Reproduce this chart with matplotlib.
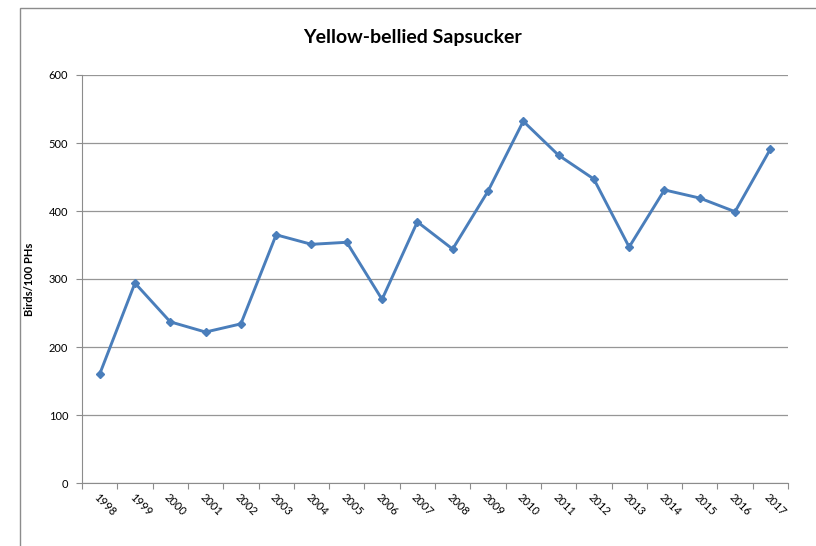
import matplotlib
matplotlib.use("Agg")
import matplotlib.pyplot as plt
from matplotlib.patches import Rectangle
import numpy as np

plt.rcParams["font.family"] = ["Lato", "DejaVu Sans"]

years = [str(y) for y in range(1998, 2018)]
birds = [160, 294, 237, 222, 234, 365, 351, 354, 270, 384,
         344, 429, 532, 482, 447, 347, 431, 419, 399, 491]
yticks = [0, 100, 200, 300, 400, 500, 600]

W, H = 816, 546
fig = plt.figure(figsize=(W / 100, H / 100), dpi=100)
ax = fig.add_axes([82 / W, 1 - 483 / H, (788 - 82) / W, (483 - 75) / H])

# chart-area border, runs off the right and bottom of the image
fig.patches.append(Rectangle((20 / W, -0.1), 1.2, 1 - 8 / H + 0.1,
                             transform=fig.transFigure, fill=False,
                             edgecolor="#8c8c8c", linewidth=1.0))

x = np.arange(len(years)) + 0.5
ax.plot(x, birds, color="#4a7ebb", linewidth=2.1, marker="D",
        markersize=4.5, zorder=3)

ax.set_xlim(0, len(years))
ax.set_ylim(0, 600)
ax.set_yticks(yticks)
ax.set_yticklabels([str(v) for v in yticks], fontsize=8)
ax.yaxis.grid(True, color="#969696", linewidth=0.9)
ax.set_axisbelow(True)

ax.set_xticks(np.arange(len(years) + 1), minor=False)
ax.set_xticklabels([])
ax.set_xticks(x, minor=True)
ax.set_xticklabels(years, minor=True, rotation=-45, ha="left",
                   rotation_mode="anchor", fontsize=8)
ax.tick_params(axis="x", which="minor", length=0, pad=6)
ax.tick_params(axis="x", which="major", length=4, color="#8c8c8c")
ax.tick_params(axis="y", length=4, color="#8c8c8c", pad=6)

for side in ["top", "right"]:
    ax.spines[side].set_visible(False)
for side in ["left", "bottom"]:
    ax.spines[side].set_color("#8c8c8c")

ax.set_ylabel("Birds/100 PHs", fontsize=8, fontweight="bold", labelpad=10)
fig.text(413 / W, 1 - 38 / H, "Yellow-bellied Sapsucker", ha="center",
         va="center", fontsize=14, fontweight="bold")

fig.savefig("out.png", dpi=100)
